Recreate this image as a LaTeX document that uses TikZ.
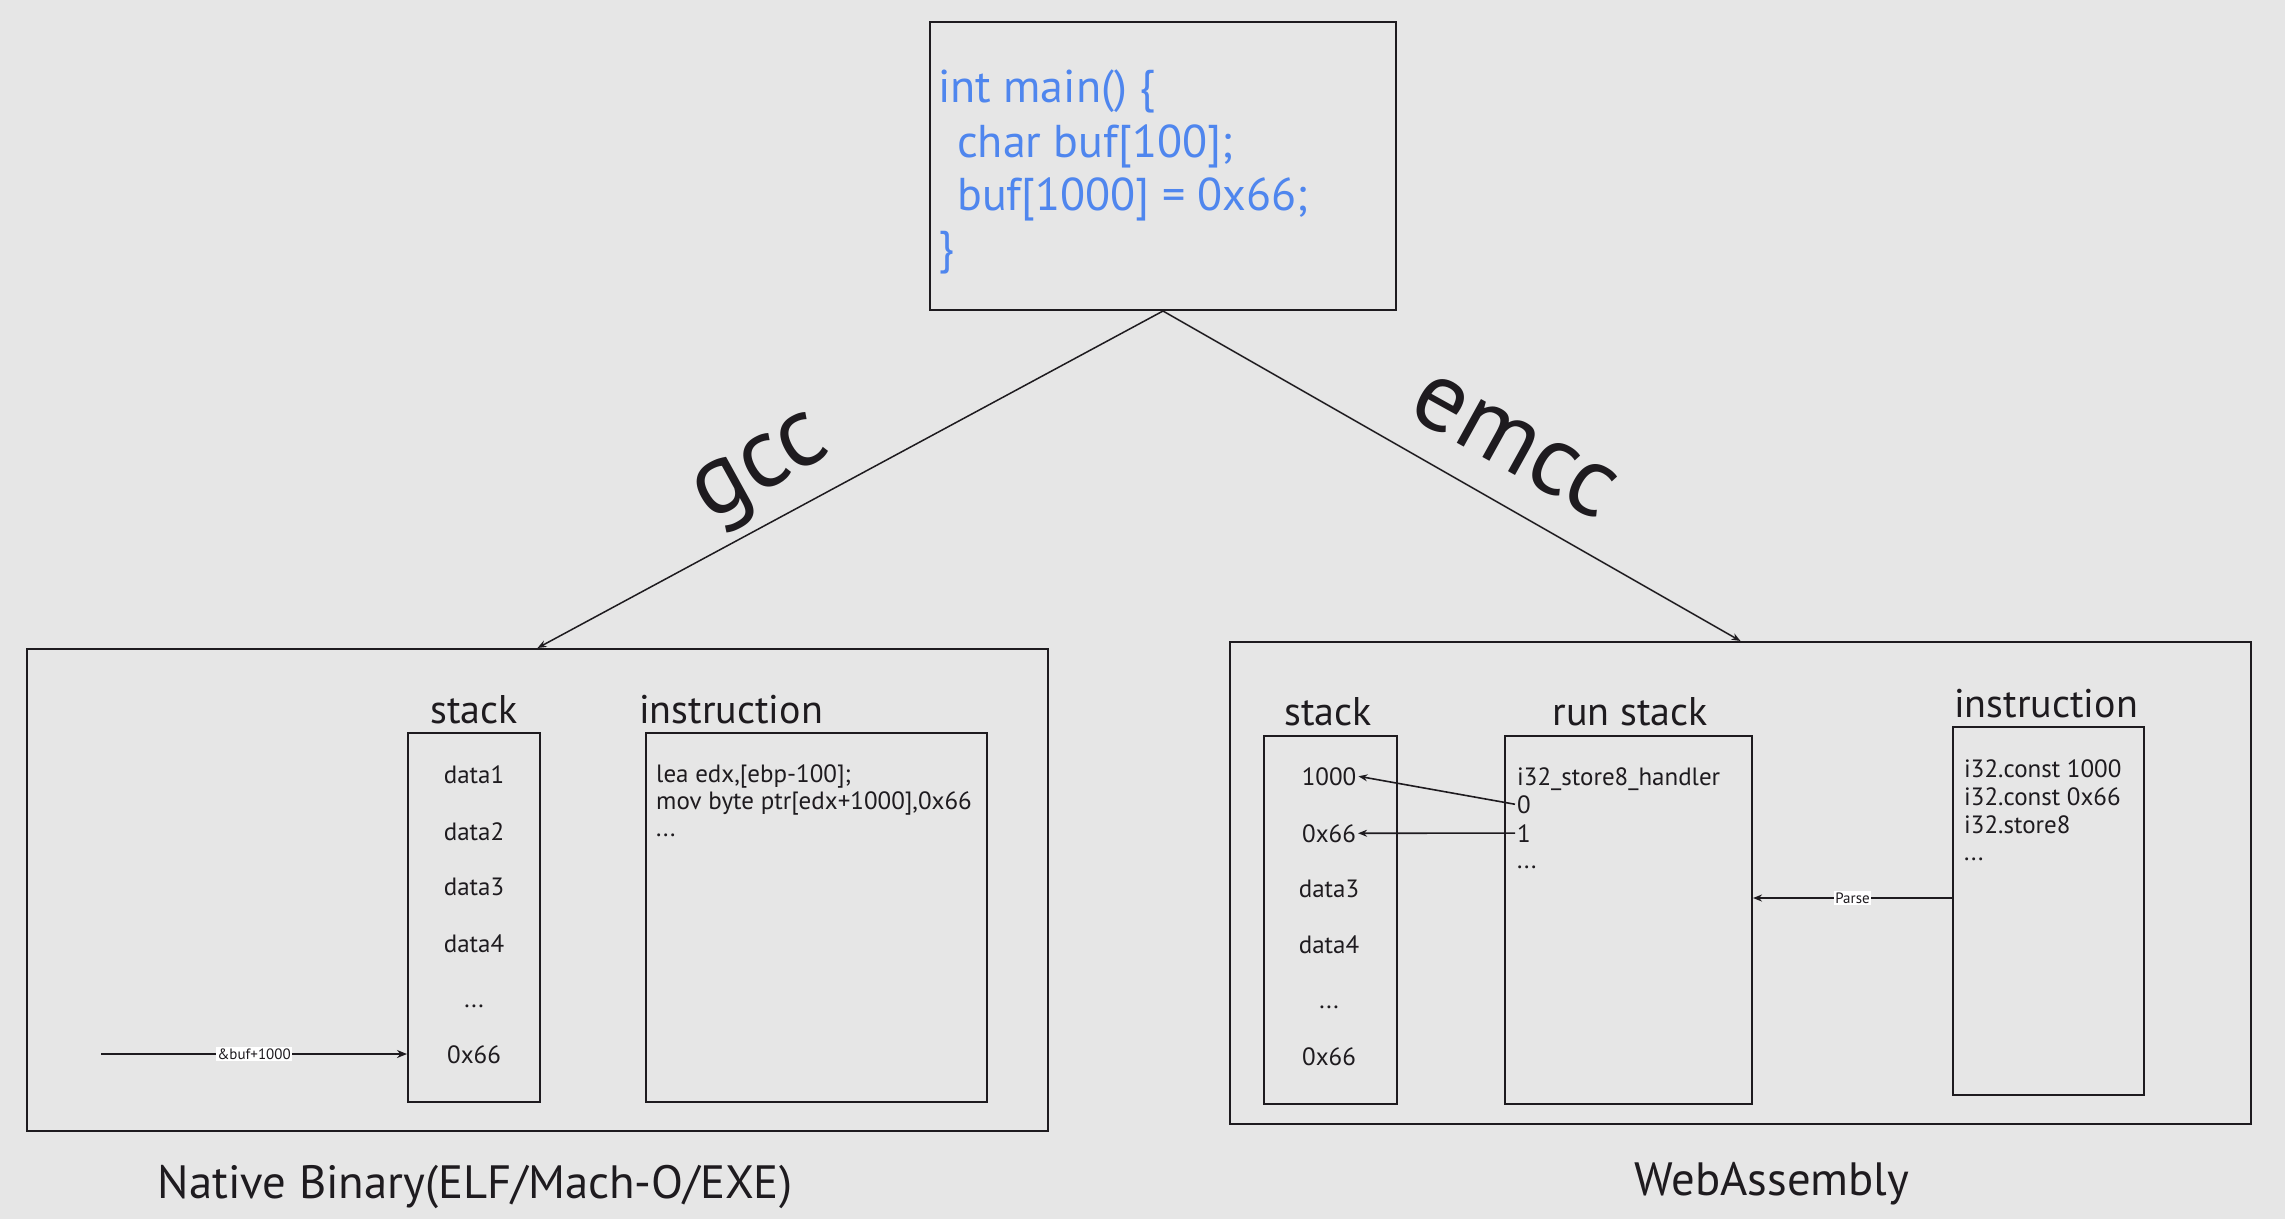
\documentclass[tikz,border=0pt]{standalone}
\usepackage{fontspec}
\setmainfont{PT Sans}
\usetikzlibrary{arrows.meta}
\definecolor{bg}{HTML}{E6E6E6}
\definecolor{ink}{HTML}{1E1B1F}
\definecolor{codeblue}{HTML}{4F86EE}
\newcommand\fsz[1]{\fontsize{#1}{#1}\selectfont}
\begin{document}
\begin{tikzpicture}[x=1pt,y=-1pt,
  box/.style={draw=ink, line width=2pt, minimum width=#1, inner sep=0pt},
  conn/.style={draw=ink, line width=1.6pt, -{Stealth[length=10pt,width=8pt]}},
  txt/.style={text=ink, inner sep=2pt},
  codetxt/.style={text=codeblue, inner sep=0pt, anchor=base west, font=\fsz{46}},
  head/.style={txt, anchor=base, font=\fsz{40}},
  item/.style={txt, anchor=base, font=\fsz{25}},
  itemw/.style={txt, anchor=base west, inner sep=0pt, font=\fsz{25}},
  tag/.style={fill=white, text=ink, inner sep=1.5pt, font=\fsz{15}},
  big/.style={text=ink, inner sep=0pt, font=\fsz{100}},
  foot/.style={txt, anchor=base, font=\fsz{46.7}}]
\fill[bg] (0,0) rectangle (2285,1219);
\useasboundingbox (0,0) rectangle (2285,1219);

% source box
\node[box=466pt, minimum height=288pt] (src) at (1163,166) {};
\node[codetxt] (c1) at (938,102) {int main() \{};
\node[codetxt] (c2) at (957,157) {char buf[100];};
\node[codetxt] (c3) at (957,210) {buf[1000] = 0x66;};
\node[codetxt] (c4) at (938,263) {\}};

% outer boxes
\node[box=1021pt, minimum height=482pt] (nat) at (537.5,890) {};
\node[box=1021pt, minimum height=482pt] (wasm) at (1740.5,883) {};

% compiler arrows
\draw[conn, line width=1.5pt, -{Stealth[length=9pt,width=7pt]}] (src.south) -- (nat.north);
\draw[conn, line width=1.5pt, -{Stealth[length=9pt,width=7pt]}] (src.south) -- (wasm.north);
\node[big, rotate=29] (gcc) at (764,474) {gcc};
\node[big, rotate=-29] (emcc) at (1514,446) {emcc};

% native side
\node[box=132pt, minimum height=369pt] (lstack) at (474,917.5) {};
\node[box=341pt, minimum height=369pt] (linstr) at (816.5,917.5) {};
\node[head] (lsh) at (474,723) {stack};
\node[head, anchor=base west, inner sep=0pt] (lih) at (639,723) {instruction};
\node[item] (l1) at (474,783) {data1};
\node[item] (l2) at (474,840) {data2};
\node[item] (l3) at (474,895) {data3};
\node[item] (l4) at (474,952) {data4};
\node[item] (l5) at (474,1007) {...};
\node[item] (l6) at (474,1063) {0x66};
\node[itemw] (li1) at (656,782) {lea edx,[ebp-100];};
\node[itemw] (li2) at (656,809) {mov byte ptr[edx+1000],0x66};
\node[itemw] (li3) at (656,836) {...};
\coordinate (bufsrc) at (101,1054);
\draw[conn] (bufsrc) -- node[tag] {\&buf+1000} (lstack.west |- bufsrc);
\node[foot] (natlab) at (475,1198) {Native Binary(ELF/Mach-O/EXE)};

% wasm side
\node[box=133pt, minimum height=368pt] (wstack) at (1330.5,920) {};
\node[box=247pt, minimum height=368pt] (wrun) at (1628.5,920) {};
\node[box=191pt, minimum height=368pt] (winstr) at (2048.5,911) {};
\node[head] (wsh) at (1328,725) {stack};
\node[head] (wrh) at (1630,725) {run stack};
\node[head] (wih) at (2046,717) {instruction};
\node[item] (s1) at (1329,785) {1000};
\node[item] (s2) at (1329,842) {0x66};
\node[item] (s3) at (1329,897) {data3};
\node[item] (s4) at (1329,953) {data4};
\node[item] (s5) at (1329,1008) {...};
\node[item] (s6) at (1329,1065) {0x66};
\node[itemw] (r1) at (1517,785) {i32\_store8\_handler};
\node[itemw, inner sep=2pt] (r2) at (1515,813) {0};
\node[itemw, inner sep=2pt] (r3) at (1515,842) {1};
\node[itemw] (r4) at (1517,868) {...};
\node[itemw] (w1) at (1964,777) {i32.const 1000};
\node[itemw] (w2) at (1964,805) {i32.const 0x66};
\node[itemw] (w3) at (1964,833) {i32.store8};
\node[itemw] (w4) at (1964,860) {...};
\draw[conn, -{Stealth[length=9pt,width=7pt]}] (r2.west) -- (s1.east);
\draw[conn, -{Stealth[length=9pt,width=7pt]}] (r3.west) -- (s2.east);
\coordinate (parsey) at (0,898);
\draw[conn, -{Stealth[length=9pt,width=7pt]}] (winstr.west |- parsey) -- node[tag] {Parse} (wrun.east |- parsey);
\node[foot] (wasmlab) at (1772,1195) {WebAssembly};
\end{tikzpicture}
\end{document}
